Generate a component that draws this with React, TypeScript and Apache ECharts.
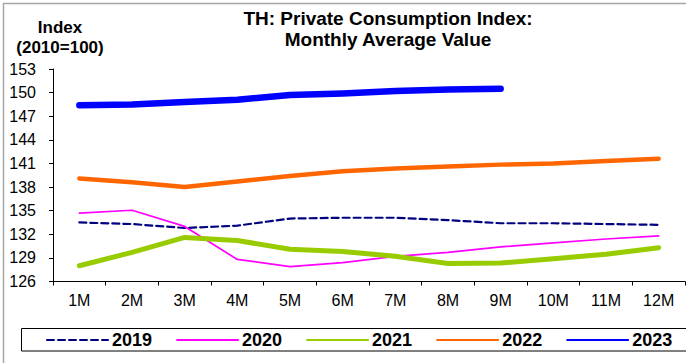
import React, { useEffect, useRef } from 'react';
import * as echarts from 'echarts';

const months = ['1M', '2M', '3M', '4M', '5M', '6M', '7M', '8M', '9M', '10M', '11M', '12M'];
const y2019 = [133.5, 133.3, 132.8, 133.1, 134.0, 134.1, 134.1, 133.8, 133.4, 133.4, 133.3, 133.2];
const y2020 = [134.7, 135.05, 133.0, 128.8, 127.9, 128.4, 129.2, 129.7, 130.4, 130.9, 131.4, 131.8];
const y2021 = [128.0, 129.7, 131.6, 131.2, 130.1, 129.8, 129.2, 128.3, 128.35, 128.9, 129.45, 130.3];
const y2022 = [139.1, 138.6, 138.0, 138.7, 139.4, 140.0, 140.35, 140.6, 140.85, 141.0, 141.3, 141.6];
const y2023 = [148.4, 148.5, 148.8, 149.1, 149.7, 149.9, 150.2, 150.4, 150.5];

const FONT = '"Liberation Sans", Arial, sans-serif';

export default function App() {
  const ref = useRef<HTMLDivElement>(null);
  useEffect(() => {
    const chart = echarts.init(ref.current!, null, { renderer: 'svg' });
    const mk = (name: string, data: number[], color: string, width: number, type: any = 'solid', z = 2) => ({
      name,
      type: 'line',
      data,
      symbol: 'none',
      z,
      lineStyle: { color, width, type, cap: 'round', join: 'round' },
      itemStyle: { color },
    });
    chart.setOption({
      animation: false,
      backgroundColor: '#ffffff',
      textStyle: { fontFamily: FONT },
      grid: { left: 53, right: 1, top: 69, bottom: 81.5 },
      xAxis: {
        type: 'category',
        data: months,
        boundaryGap: true,
        axisLine: { show: true, lineStyle: { color: '#000', width: 1 } },
        axisTick: { show: true, length: 4, lineStyle: { color: '#000' } },
        axisLabel: { color: '#000', fontSize: 16, fontFamily: FONT, margin: 11 },
        splitLine: { show: false },
      },
      yAxis: {
        type: 'value',
        min: 126,
        max: 153,
        interval: 3,
        axisLine: { show: true, lineStyle: { color: '#000', width: 1 } },
        axisTick: { show: true, length: 4, lineStyle: { color: '#000' } },
        axisLabel: { color: '#000', fontSize: 16, fontFamily: FONT, margin: 17 },
        splitLine: { show: false },
      },
      legend: {
        left: 46,
        top: 331,
        padding: 0,
        itemWidth: 61,
        itemHeight: 18,
        itemGap: 24,
        itemStyle: { opacity: 0 },
        textStyle: { fontSize: 18, fontWeight: 'bold', color: '#000', fontFamily: FONT, padding: [0, 0, 0, -1] },
        data: ['2019', '2020', '2021', '2022', '2023'],
      },
      graphic: [
        { type: 'rect', shape: { x: 3.5, y: 3.5, width: 800, height: 800 }, style: { fill: 'none', stroke: '#a6a6a6', lineWidth: 1.5 }, silent: true },
        { type: 'rect', shape: { x: 21.5, y: 328.5, width: 800, height: 22.5 }, style: { fill: 'none', stroke: '#000', lineWidth: 1 }, silent: true },
        { type: 'text', x: 388, y: 18, style: { text: 'TH: Private Consumption Index:', fontSize: 19, fontWeight: 'bold', fontFamily: FONT, fill: '#000', align: 'center', verticalAlign: 'middle' } },
        { type: 'text', x: 388, y: 39, style: { text: 'Monthly Average Value', fontSize: 19, fontWeight: 'bold', fontFamily: FONT, fill: '#000', align: 'center', verticalAlign: 'middle' } },
        { type: 'text', x: 60, y: 27, style: { text: 'Index', fontSize: 17, fontWeight: 'bold', fontFamily: FONT, fill: '#000', align: 'center', verticalAlign: 'middle' } },
        { type: 'text', x: 60, y: 47, style: { text: '(2010=100)', fontSize: 17, fontWeight: 'bold', fontFamily: FONT, fill: '#000', align: 'center', verticalAlign: 'middle' } },
      ],
      series: [
        mk('2019', y2019, '#000080', 2.2, [7, 4], 2),
        mk('2020', y2020, '#ff00ff', 1.7, 'solid', 3),
        mk('2021', y2021, '#99cc00', 5, 'solid', 4),
        mk('2022', y2022, '#ff6600', 4.5, 'solid', 5),
        mk('2023', y2023, '#0000ff', 6.5, 'solid', 6),
      ],
    });
    return () => chart.dispose();
  }, []);
  return <div ref={ref} style={{ position: 'absolute', left: 0, top: 0, width: 686, height: 363 }} />;
}
